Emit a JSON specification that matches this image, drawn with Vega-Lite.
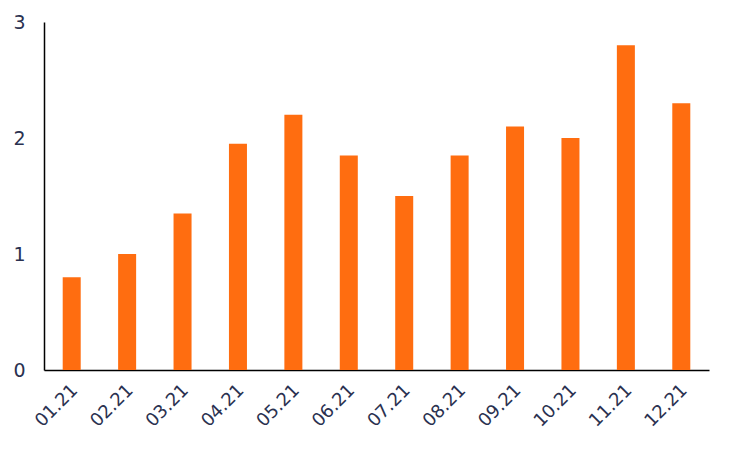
{
  "$schema": "https://vega.github.io/schema/vega-lite/v6.json",
  "width": 665,
  "height": 348,
  "autosize": {"type": "none"},
  "padding": {"left": 44, "top": 22, "right": 23, "bottom": 80},
  "background": "white",
  "data": {
    "values": [
      {"month": "01.21", "value": 0.8},
      {"month": "02.21", "value": 1.0},
      {"month": "03.21", "value": 1.35},
      {"month": "04.21", "value": 1.95},
      {"month": "05.21", "value": 2.2},
      {"month": "06.21", "value": 1.85},
      {"month": "07.21", "value": 1.5},
      {"month": "08.21", "value": 1.85},
      {"month": "09.21", "value": 2.1},
      {"month": "10.21", "value": 2.0},
      {"month": "11.21", "value": 2.8},
      {"month": "12.21", "value": 2.3}
    ]
  },
  "mark": {"type": "bar", "color": "#FF6D10"},
  "encoding": {
    "x": {
      "field": "month",
      "type": "ordinal",
      "sort": null,
      "scale": {"paddingInner": 0.675, "paddingOuter": 0.3375},
      "axis": {
        "title": null,
        "labelAngle": -45,
        "labelFont": "DejaVu Sans",
        "labelFontSize": 18,
        "labelColor": "#2a3150",
        "ticks": false,
        "labelPadding": 11,
        "labelOffset": -3,
        "domainColor": "#000000",
        "domainWidth": 1.5,
        "grid": false
      }
    },
    "y": {
      "field": "value",
      "type": "quantitative",
      "scale": {"domain": [0, 3], "nice": false},
      "axis": {
        "title": null,
        "values": [0, 1, 2, 3],
        "labelFont": "DejaVu Sans",
        "labelFontSize": 19,
        "labelColor": "#2a3150",
        "ticks": false,
        "labelPadding": 19,
        "domainColor": "#000000",
        "domainWidth": 1.5,
        "grid": false
      }
    }
  },
  "config": {"view": {"stroke": null}}
}
